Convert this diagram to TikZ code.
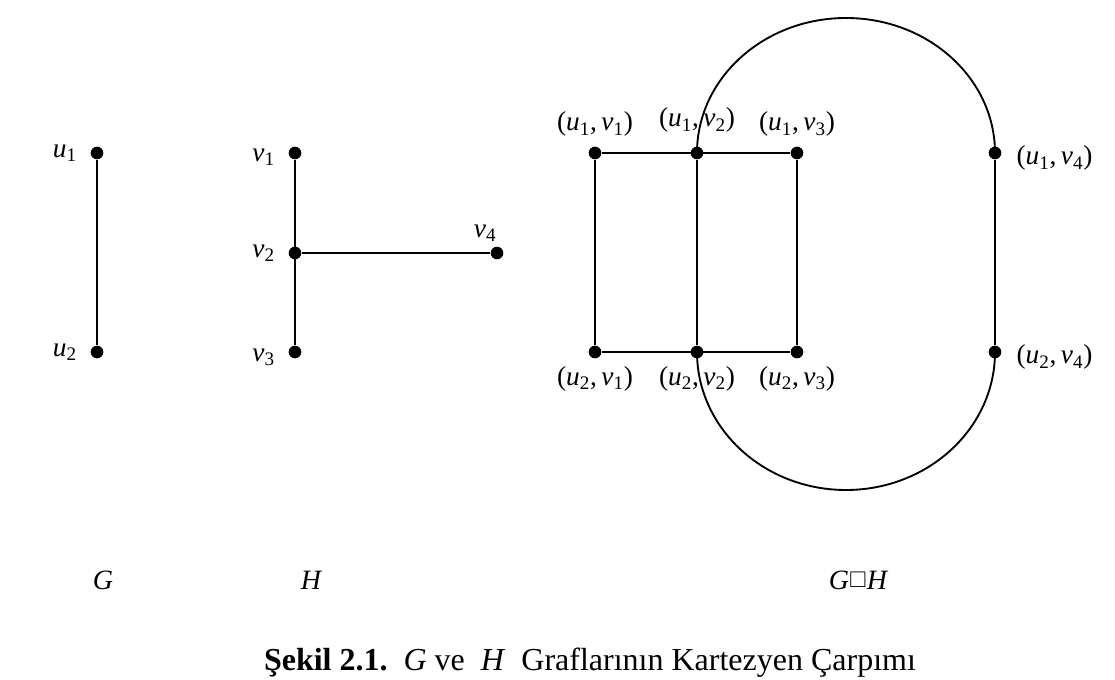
\documentclass[tikz,border=0pt]{standalone}
\usepackage{amssymb}
\usepackage{fontspec}
\setmainfont{Liberation Serif}
\usetikzlibrary{positioning}

\newcommand{\pu}[1]{\textit{u}\textsubscript{#1}}
\newcommand{\pv}[1]{\textit{v}\textsubscript{#1}}
\newcommand{\uv}[2]{(\pu{#1},\,\pv{#2})}

\begin{document}
\begin{tikzpicture}[x=0.75pt, y=-0.75pt, line width=1.4pt,
        vert/.style={circle, fill=black, inner sep=0pt, minimum size=9.5pt},
        lbl/.style={inner sep=0pt, font=\fontsize{20.5}{24}\selectfont},
        gname/.style={inner sep=0pt, font=\fontsize{21}{24}\selectfont\itshape}]
    \useasboundingbox (0,0) rectangle (1115,680);

    % G
    \node[vert] (u1) at (97,153) {};
    \node[vert] (u2) at (97,352) {};
    \node[lbl, left=9pt of u1] (lu1) {\pu{1}};
    \node[lbl, left=9pt of u2] (lu2) {\pu{2}};
    \draw (u1) -- (u2);

    % H
    \node[vert] (v1) at (295,153) {};
    \node[vert] (v2) at (295,253) {};
    \node[vert] (v3) at (295,352) {};
    \node[vert] (v4) at (497,253) {};
    \node[lbl, left=9pt of v1, yshift=-3pt] (lv1) {\pv{1}};
    \node[lbl, left=9pt of v2] (lv2) {\pv{2}};
    \node[lbl, left=9pt of v3, yshift=-4pt] (lv3) {\pv{3}};
    \node[lbl, above left=4pt and -4pt of v4] (lv4) {\pv{4}};
    \draw (v1) -- (v3);
    \draw (v2) -- (v4);

    % kartezyen carpim
    \node[vert] (a1) at (595,153) {};
    \node[vert] (a2) at (697,153) {};
    \node[vert] (a3) at (797,153) {};
    \node[vert] (a4) at (995,153) {};
    \node[vert] (b1) at (595,352) {};
    \node[vert] (b2) at (697,352) {};
    \node[vert] (b3) at (797,352) {};
    \node[vert] (b4) at (995,352) {};

    \node[lbl, above=6pt of a1] (la1) {\uv{1}{1}};
    \node[lbl, above=9pt of a2] (la2) {\uv{1}{2}};
    \node[lbl, above=6pt of a3] (la3) {\uv{1}{3}};
    \node[lbl, right=10pt of a4, yshift=-4pt] (la4) {\uv{1}{4}};
    \node[lbl, below=5pt of b1] (lb1) {\uv{2}{1}};
    \node[lbl, below=5pt of b2] (lb2) {\uv{2}{2}};
    \node[lbl, below=5pt of b3] (lb3) {\uv{2}{3}};
    \node[lbl, right=10pt of b4, yshift=-4pt] (lb4) {\uv{2}{4}};

    \draw (a1) -- (a3);
    \draw (b1) -- (b3);
    \draw (a1) -- (b1);
    \draw (a2) -- (b2);
    \draw (a3) -- (b3);
    \draw (a4) -- (b4);
    \draw (a2.center) arc[start angle=180, end angle=0, x radius=111.75pt, y radius=101.25pt];
    \draw (b2.center) arc[start angle=180, end angle=360, x radius=111.75pt, y radius=103.5pt];

    % graf isimleri
    \node[gname] (gG) at (103,580) {G};
    \node[gname] (gH) at (311,580) {H};
    \node[gname] (gGH) at (858,580) {G\raisebox{1pt}{\upshape\fontsize{17}{17}\selectfont$\square$}H};

    \node[inner sep=0pt, font=\fontsize{24}{27}\selectfont, anchor=base] (cap) at (590,671)
        {\textbf{Şekil 2.1.}\ \ \textit{G} ve \ \textit{H} \ Graflarının Kartezyen Çarpımı};
\end{tikzpicture}
\end{document}
